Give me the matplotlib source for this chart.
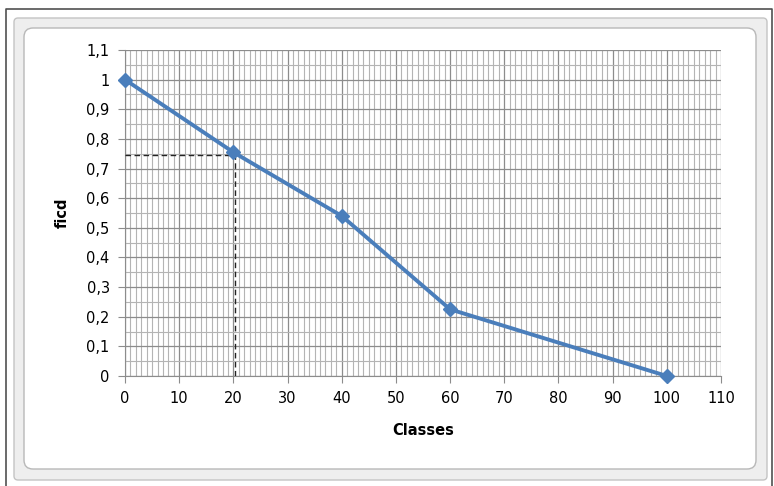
import matplotlib
matplotlib.use("Agg")
import matplotlib.pyplot as plt
from matplotlib.patches import FancyBboxPatch
from matplotlib.lines import Line2D
from matplotlib.transforms import IdentityTransform
from matplotlib.ticker import MultipleLocator, FuncFormatter

classes = [0, 20, 40, 60, 100]
fi_cd = [1.0, 0.755, 0.54, 0.225, 0.0]
read_x = 20.3
read_y = 0.745

W, H = 774, 486
fig = plt.figure(figsize=(W / 100, H / 100), dpi=100)
fig.patch.set_facecolor("white")
T = IdentityTransform()

def px(x0, y0, x1, y1):
    # convert top-left pixel box to display coords (origin bottom-left)
    return x0, H - y1, x1 - x0, y1 - y0

# outer window lines
fig.lines.append(Line2D([5.5, 5.5, 771.5, 771.5], [0, H - 8.5, H - 8.5, 0], transform=T,
                        color="#505050", linewidth=1.2, zorder=-10))
# gray frame band
x, y, w, h = px(14, 18, 767, 480)
fig.patches.append(FancyBboxPatch((x, y), w, h, transform=T,
                                  boxstyle="round,pad=0,rounding_size=4",
                                  facecolor="#eeeeee", edgecolor="#c4c4c4", linewidth=1.0,
                                  zorder=-10))
x, y, w, h = px(24, 28, 756, 469)
fig.patches.append(FancyBboxPatch((x, y), w, h, transform=T,
                                  boxstyle="round,pad=0,rounding_size=9",
                                  facecolor="white", edgecolor="#b8b8b8", linewidth=1.0,
                                  zorder=-9))

ax = fig.add_axes([125 / W, 1 - 376 / H, 596 / W, 326 / H])
ax.set_zorder(5)
ax.set_facecolor("white")
ax.set_xlim(0, 110)
ax.set_ylim(0, 1.1)
ax.xaxis.set_major_locator(MultipleLocator(10))
ax.xaxis.set_minor_locator(MultipleLocator(1))
ax.yaxis.set_major_locator(MultipleLocator(0.1))
ax.yaxis.set_minor_locator(MultipleLocator(0.05))
ax.grid(which="minor", color="#b4b4b4", linewidth=0.8)
ax.grid(which="major", color="#8c8c8c", linewidth=0.9)
ax.set_axisbelow(True)

def yfmt(v, pos):
    s = f"{v:.1f}".rstrip("0").rstrip(".")
    return s.replace(".", ",")
ax.yaxis.set_major_formatter(FuncFormatter(yfmt))
ax.tick_params(which="minor", length=0)
ax.tick_params(which="major", length=5, color="#8c8c8c", labelsize=10.5, pad=6)
for s in ["top", "right"]:
    ax.spines[s].set_visible(False)
for s in ["left", "bottom"]:
    ax.spines[s].set_color("#8c8c8c")

ax.plot([0, read_x], [read_y, read_y], linestyle=(0, (4, 2.5)), color="#222222", linewidth=1.0, zorder=3)
ax.plot([read_x, read_x], [0, read_y], linestyle=(0, (4, 2.5)), color="#222222", linewidth=1.0, zorder=3)

ax.plot(classes, fi_cd, color="#4a7ebb", linewidth=2.8, marker="D", markersize=7,
        clip_on=False, zorder=4)

ax.set_xlabel("Classes", fontsize=10.5, fontweight="bold", labelpad=12)
ax.set_ylabel("ficd", fontsize=10.5, fontweight="bold", labelpad=12)

fig.savefig("out.png", dpi=100)
